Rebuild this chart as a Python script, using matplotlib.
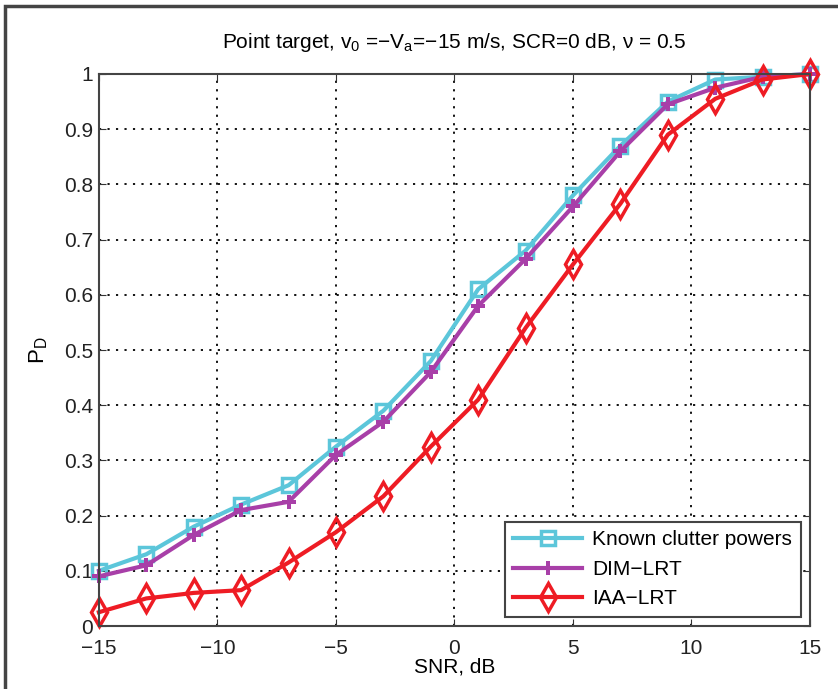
import matplotlib
matplotlib.use('Agg')
import matplotlib.pyplot as plt
from matplotlib.patches import Rectangle

plt.rcParams['font.family'] = ['Liberation Sans', 'DejaVu Sans']
plt.rcParams['mathtext.fontset'] = 'custom'
plt.rcParams['mathtext.rm'] = 'Liberation Sans'
plt.rcParams['mathtext.it'] = 'Liberation Sans'

snr = [-15, -13, -11, -9, -7, -5, -3, -1, 1, 3, 5, 7, 9, 11, 13, 15]
pd_known = [0.10, 0.13, 0.18, 0.22, 0.255, 0.325, 0.39, 0.48, 0.61, 0.68,
            0.78, 0.87, 0.95, 0.99, 0.995, 1.0]
pd_dim = [0.09, 0.11, 0.165, 0.21, 0.225, 0.31, 0.37, 0.46, 0.58, 0.665,
          0.76, 0.86, 0.945, 0.975, 0.995, 1.0]
pd_iaa = [0.025, 0.05, 0.06, 0.065, 0.115, 0.17, 0.235, 0.325, 0.41, 0.54,
          0.655, 0.765, 0.89, 0.955, 0.99, 1.0]

fig = plt.figure(figsize=(8.38, 6.89), dpi=100)
ax = fig.add_axes([0.118, 0.0914, 0.8486, 0.8012])

ax.plot(snr, pd_known, color='#5cc6da', lw=3, marker='s', ms=10,
        mfc='none', mew=2.5, label='Known clutter powers', clip_on=False)
ax.plot(snr, pd_dim, color='#a83fa8', lw=3, marker='P', ms=10,
        mew=0, label='DIM\u2212LRT', clip_on=False)
ax.plot(snr, pd_iaa, color='#ee1c24', lw=3, marker='d', ms=14,
        mfc='none', mew=2.5, label='IAA\u2212LRT', clip_on=False)

ax.set_xlim(-15, 15)
ax.set_ylim(0, 1)
ax.set_xticks(range(-15, 16, 5))
ax.set_yticks([i / 10 for i in range(11)])
ax.set_yticklabels(['0'] + ['0.%d' % i for i in range(1, 10)] + ['1'])
ax.tick_params(direction='in', labelsize=15, length=5, top=True, right=True,
               color='#333333', labelcolor='#222222', pad=4)
ax.tick_params(axis='x', pad=9)
ax.grid(True, color='black', lw=1.3, dashes=(1.2, 3.5))
for s in ax.spines.values():
    s.set_color('#444444')
    s.set_linewidth(1.5)

ax.set_xlabel('SNR, dB', fontsize=15, labelpad=0)
ax.set_ylabel('P$_{\\mathrm{D}}$', fontsize=16, labelpad=10)
ax.set_title('Point target, v$_0$ =\u2212V$_a$=\u221215 m/s, SCR=0 dB, \u03bd = 0.5',
             fontsize=15, pad=19)

leg = ax.legend(loc='lower right', fontsize=15, fancybox=False,
                edgecolor='#444444', framealpha=1, handlelength=3.3,
                borderaxespad=0.45, labelspacing=0.5, borderpad=0.4,
                handletextpad=0.5)
leg.get_frame().set_linewidth(1.5)

# outer frame drawn around the whole figure
fig.patches.append(Rectangle((0.006, -0.1), 1.1, 1.091, transform=fig.transFigure,
                             fill=False, edgecolor='#444444', lw=2.5))

fig.savefig('out.png', dpi=100)
